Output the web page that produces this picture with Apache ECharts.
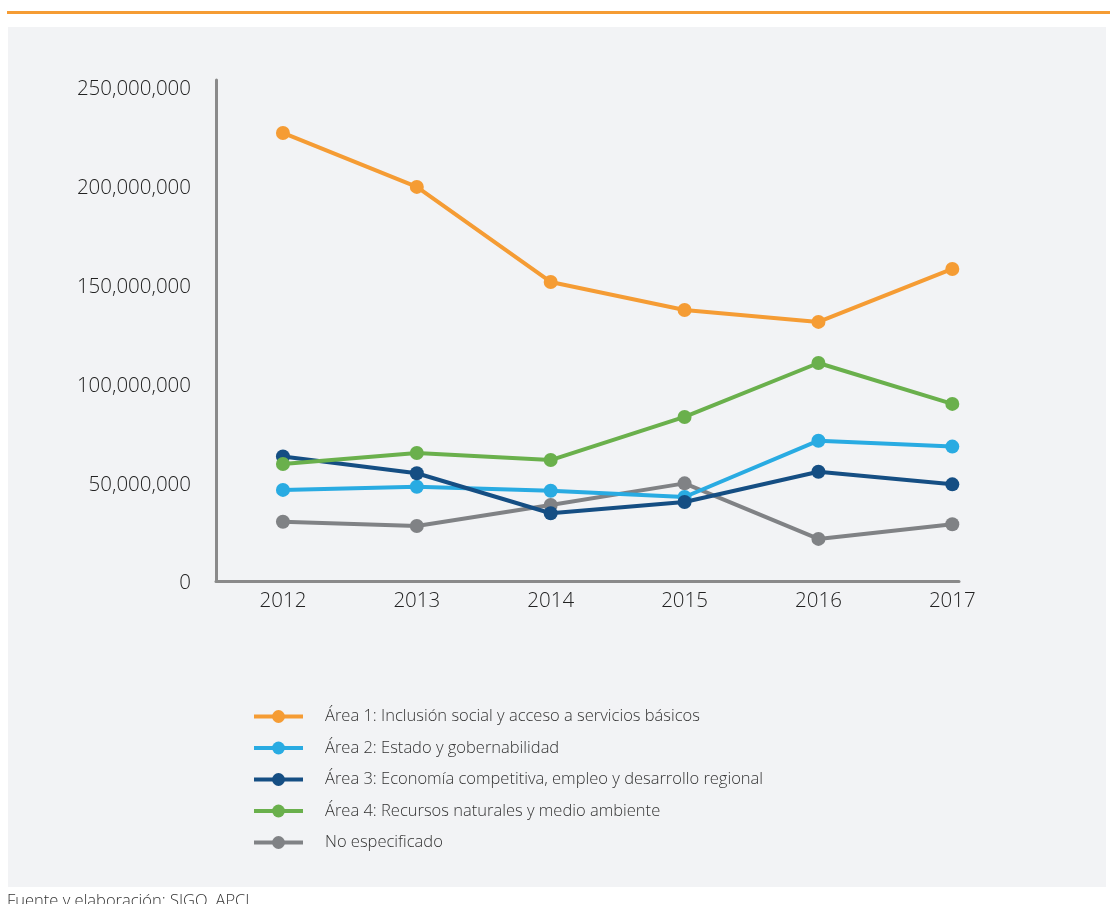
<!DOCTYPE html>
<html>
<head>
<meta charset="utf-8">
<script src="https://cdn.jsdelivr.net/npm/echarts@6/dist/echarts.min.js"></script>
<style>
html,body{margin:0;padding:0;background:#fff;}
#c{width:1110px;height:904px;}
</style>
</head>
<body>
<div id="c"></div>
<script>
const years = [2012, 2013, 2014, 2015, 2016, 2017];
const seriesNames = [
  "Área 1: Inclusión social y acceso a servicios básicos",
  "Área 2: Estado y gobernabilidad",
  "Área 3: Economía competitiva, empleo y desarrollo regional",
  "Área 4: Recursos naturales y medio ambiente",
  "No especificado"
];
const area1 = [226700000, 199400000, 151300000, 137100000, 131100000, 157900000];
const area2 = [46100000, 47700000, 45700000, 42500000, 71000000, 68000000];
const area3 = [63000000, 54500000, 34300000, 40000000, 55300000, 48900000];
const area4 = [59200000, 64800000, 61200000, 83000000, 110300000, 89600000];
const noEsp = [30000000, 27800000, 38500000, 49400000, 21300000, 28700000];
const yTicks = [0, 50000000, 100000000, 150000000, 200000000, 250000000];
const sourceText = "Fuente y elaboración: SIGO, APCI";

const colors = ["#f59c34", "#29abe2", "#154e83", "#6ab04c", "#808285"];
const values = [area1, area2, area3, area4, noEsp];
const zs = [6, 3, 4, 5, 2];
const FONT = "'Open Sans', 'Noto Sans', sans-serif";

const chart = echarts.init(document.getElementById('c'), null, {renderer: 'canvas'});
chart.setOption({
  backgroundColor: '#ffffff',
  animation: false,
  graphic: [
    {type: 'rect', silent: true, z: -10, shape: {x: 8, y: 27, width: 1098, height: 860}, style: {fill: '#f2f3f5'}},
    {type: 'rect', silent: true, z: -10, shape: {x: 7, y: 11, width: 1103, height: 3}, style: {fill: '#f59c34'}},
    {type: 'text', silent: true, left: 7, top: 893, style: {text: sourceText, fill: '#333', font: '300 16.5px ' + FONT}}
  ],
  grid: {left: 216, right: 151, top: 80, bottom: 323, containLabel: false},
  xAxis: {
    type: 'value',
    min: 2011.5,
    max: 2017.05,
    interval: 0.5,
    axisLine: {show: true, lineStyle: {color: '#8a8a8a', width: 3}},
    axisTick: {show: false},
    splitLine: {show: false},
    axisLabel: {
      margin: 10,
      color: '#222',
      fontFamily: FONT,
      fontWeight: 300,
      fontSize: 20.5,
      showMinLabel: true,
      showMaxLabel: true,
      formatter: function (v) {
        const r = Math.round(v);
        return (Math.abs(v - r) < 1e-6 && years.indexOf(r) >= 0) ? String(r) : '';
      }
    }
  },
  yAxis: {
    type: 'value',
    min: 0,
    max: 253500000,
    interval: 50000000,
    axisLine: {show: true, lineStyle: {color: '#8a8a8a', width: 3}},
    axisTick: {show: false},
    splitLine: {show: false},
    axisLabel: {
      margin: 25,
      color: '#222',
      fontFamily: FONT,
      fontWeight: 300,
      fontSize: 20.5,
      formatter: function (v) {
        return yTicks.indexOf(v) >= 0 ? '{a|' + v.toLocaleString('en-US') + '}' : '';
      },
      rich: {
        a: {color: '#222', fontFamily: FONT, fontWeight: 300, fontSize: 20.5, padding: [5, 0, 0, 0]}
      }
    }
  },
  legend: {
    orient: 'vertical',
    left: 252,
    top: 708,
    padding: 0,
    itemWidth: 49,
    itemHeight: 16,
    itemGap: 14.5,
    data: seriesNames,
    lineStyle: {width: 4},
    textStyle: {color: '#333', fontFamily: FONT, fontWeight: 300, fontSize: 16.5, padding: [0, 0, 0, 17]}
  },
  series: seriesNames.map(function (name, i) {
    return {
      name: name,
      type: 'line',
      z: zs[i],
      data: years.map(function (y, j) { return [y, values[i][j]]; }),
      symbol: 'circle',
      symbolSize: 14,
      showSymbol: true,
      lineStyle: {color: colors[i], width: 4},
      itemStyle: {color: colors[i]},
      emphasis: {disabled: true}
    };
  })
});
</script>
</body>
</html>
